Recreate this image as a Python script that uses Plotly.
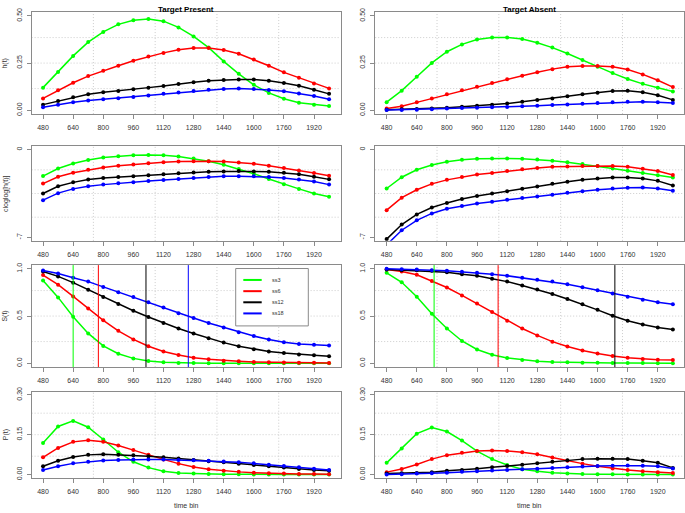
import plotly.graph_objects as go
from plotly.subplots import make_subplots

# ---------------- data ----------------
time_bins = [480, 560, 640, 720, 800, 880, 960, 1040, 1120, 1200,
             1280, 1360, 1440, 1520, 1600, 1680, 1760, 1840, 1920, 2000]
x_tickvals = [480, 640, 800, 960, 1120, 1280, 1440, 1600, 1760, 1920]
series_names = ["ss3", "ss6", "ss12", "ss18"]
series_colors = ["#00FF00", "#FF0000", "#000000", "#0000FF"]

# h(t) Target Present
h_present = {
    "ss3": [0.120, 0.203, 0.288, 0.361, 0.415, 0.455, 0.477, 0.483, 0.472, 0.439,
            0.391, 0.332, 0.259, 0.193, 0.135, 0.092, 0.061, 0.040, 0.030, 0.023],
    "ss6": [0.063, 0.106, 0.146, 0.181, 0.210, 0.236, 0.262, 0.285, 0.304, 0.321,
            0.330, 0.330, 0.319, 0.299, 0.269, 0.236, 0.201, 0.172, 0.142, 0.116],
    "ss12": [0.030, 0.049, 0.069, 0.085, 0.095, 0.102, 0.111, 0.120, 0.128, 0.139,
             0.148, 0.156, 0.161, 0.163, 0.163, 0.156, 0.144, 0.130, 0.109, 0.087],
    "ss18": [0.016, 0.030, 0.043, 0.052, 0.059, 0.064, 0.071, 0.078, 0.087, 0.094,
             0.102, 0.109, 0.113, 0.115, 0.113, 0.108, 0.101, 0.089, 0.076, 0.059],
}
# h(t) Target Absent
h_absent = {
    "ss3": [0.043, 0.104, 0.178, 0.251, 0.310, 0.349, 0.375, 0.386, 0.386, 0.377,
            0.358, 0.332, 0.301, 0.266, 0.230, 0.197, 0.166, 0.140, 0.119, 0.100],
    "ss6": [0.009, 0.021, 0.042, 0.062, 0.085, 0.106, 0.125, 0.145, 0.164, 0.183,
            0.201, 0.218, 0.230, 0.235, 0.235, 0.230, 0.216, 0.190, 0.159, 0.123],
    "ss12": [0.003, 0.005, 0.007, 0.010, 0.014, 0.019, 0.024, 0.029, 0.036, 0.045,
             0.054, 0.062, 0.074, 0.085, 0.093, 0.102, 0.104, 0.095, 0.080, 0.055],
    "ss18": [0.001, 0.002, 0.003, 0.006, 0.009, 0.012, 0.014, 0.016, 0.018, 0.021,
             0.024, 0.028, 0.031, 0.035, 0.038, 0.042, 0.045, 0.045, 0.043, 0.038],
}
# cloglog[h(t)] Target Present
cll_present = {
    "ss3": [-2.11, -1.50, -1.11, -0.82, -0.63, -0.53, -0.45, -0.42, -0.45, -0.55,
            -0.71, -0.92, -1.21, -1.55, -1.92, -2.34, -2.76, -3.13, -3.50, -3.76],
    "ss6": [-2.71, -2.16, -1.84, -1.61, -1.42, -1.29, -1.18, -1.08, -1.00, -0.95,
            -0.92, -0.92, -0.95, -1.03, -1.13, -1.29, -1.47, -1.66, -1.87, -2.08],
    "ss12": [-3.50, -2.92, -2.61, -2.39, -2.26, -2.18, -2.13, -2.05, -1.97, -1.89,
             -1.82, -1.76, -1.74, -1.71, -1.74, -1.76, -1.84, -1.97, -2.16, -2.37],
    "ss18": [-4.03, -3.47, -3.13, -2.92, -2.79, -2.68, -2.61, -2.50, -2.42, -2.34,
             -2.26, -2.18, -2.13, -2.13, -2.13, -2.18, -2.26, -2.39, -2.55, -2.79],
}
# cloglog[h(t)] Target Absent
cll_absent = {
    "ss3": [-3.10, -2.20, -1.60, -1.23, -0.97, -0.81, -0.73, -0.71, -0.71, -0.73,
            -0.79, -0.89, -1.00, -1.15, -1.31, -1.50, -1.68, -1.86, -2.05, -2.23],
    "ss6": [-4.83, -3.83, -3.20, -2.73, -2.41, -2.18, -1.99, -1.86, -1.71, -1.57,
            -1.47, -1.36, -1.34, -1.31, -1.31, -1.31, -1.36, -1.52, -1.71, -2.02],
    "ss12": [-7.14, -5.98, -5.17, -4.62, -4.25, -3.94, -3.70, -3.49, -3.31, -3.12,
             -2.94, -2.73, -2.57, -2.41, -2.31, -2.23, -2.23, -2.31, -2.49, -2.86],
    "ss18": [-7.60, -6.43, -5.64, -5.09, -4.72, -4.49, -4.30, -4.15, -3.99, -3.86,
             -3.73, -3.60, -3.44, -3.31, -3.20, -3.10, -3.04, -3.02, -3.10, -3.28],
}
# S(t) Target Present
s_present = {
    "ss3": [0.878, 0.698, 0.493, 0.316, 0.184, 0.101, 0.052, 0.024, 0.010, 0.004,
            0.002, 0.001, 0.001, 0.000, 0.000, 0.000, 0.000, 0.000, 0.000, 0.000],
    "ss6": [0.934, 0.833, 0.708, 0.580, 0.455, 0.344, 0.253, 0.181, 0.125, 0.087,
            0.059, 0.042, 0.028, 0.021, 0.014, 0.010, 0.008, 0.006, 0.005, 0.004],
    "ss12": [0.972, 0.920, 0.854, 0.778, 0.701, 0.628, 0.556, 0.490, 0.427, 0.368,
             0.316, 0.264, 0.219, 0.181, 0.149, 0.125, 0.108, 0.094, 0.084, 0.075],
    "ss18": [0.983, 0.951, 0.906, 0.865, 0.809, 0.753, 0.701, 0.646, 0.590, 0.531,
             0.479, 0.427, 0.378, 0.330, 0.288, 0.253, 0.222, 0.205, 0.195, 0.188],
}
# S(t) Target Absent
s_absent = {
    "ss3": [0.958, 0.858, 0.705, 0.524, 0.368, 0.236, 0.146, 0.090, 0.056, 0.035,
            0.021, 0.014, 0.010, 0.007, 0.005, 0.004, 0.003, 0.002, 0.001, 0.001],
    "ss6": [0.993, 0.972, 0.938, 0.872, 0.802, 0.719, 0.632, 0.542, 0.451, 0.368,
            0.295, 0.229, 0.177, 0.135, 0.104, 0.076, 0.059, 0.045, 0.038, 0.035],
    "ss12": [0.993, 0.986, 0.986, 0.979, 0.965, 0.944, 0.927, 0.896, 0.865, 0.823,
             0.781, 0.733, 0.681, 0.625, 0.566, 0.503, 0.451, 0.410, 0.378, 0.358],
    "ss18": [1.000, 0.997, 0.993, 0.986, 0.979, 0.969, 0.958, 0.944, 0.927, 0.906,
             0.885, 0.865, 0.837, 0.806, 0.774, 0.740, 0.705, 0.674, 0.646, 0.625],
}
# P(t) Target Present
p_present = {
    "ss3": [0.119, 0.181, 0.202, 0.178, 0.132, 0.084, 0.048, 0.026, 0.012, 0.006,
            0.004, 0.002, 0.001, 0.001, 0.000, 0.000, 0.000, 0.000, 0.000, 0.000],
    "ss6": [0.065, 0.100, 0.123, 0.129, 0.123, 0.109, 0.092, 0.074, 0.057, 0.041,
            0.028, 0.020, 0.014, 0.010, 0.007, 0.005, 0.004, 0.002, 0.002, 0.001],
    "ss12": [0.031, 0.052, 0.066, 0.074, 0.076, 0.074, 0.073, 0.069, 0.065, 0.060,
             0.055, 0.050, 0.046, 0.041, 0.036, 0.031, 0.026, 0.021, 0.017, 0.014],
    "ss18": [0.017, 0.031, 0.042, 0.048, 0.053, 0.055, 0.057, 0.057, 0.057, 0.055,
             0.054, 0.052, 0.049, 0.046, 0.042, 0.037, 0.032, 0.027, 0.022, 0.017],
}
# P(t) Target Absent
p_absent = {
    "ss3": [0.044, 0.098, 0.154, 0.177, 0.162, 0.128, 0.088, 0.058, 0.036, 0.020,
            0.012, 0.007, 0.004, 0.002, 0.001, 0.001, 0.000, 0.000, 0.000, 0.000],
    "ss6": [0.009, 0.021, 0.038, 0.058, 0.073, 0.082, 0.089, 0.090, 0.089, 0.084,
            0.076, 0.064, 0.052, 0.041, 0.031, 0.023, 0.017, 0.012, 0.009, 0.006],
    "ss12": [0.004, 0.005, 0.006, 0.009, 0.014, 0.017, 0.022, 0.027, 0.032, 0.037,
             0.042, 0.048, 0.054, 0.058, 0.059, 0.059, 0.058, 0.052, 0.044, 0.025],
    "ss18": [0.000, 0.001, 0.004, 0.005, 0.007, 0.010, 0.012, 0.015, 0.017, 0.020,
             0.022, 0.025, 0.027, 0.030, 0.032, 0.033, 0.034, 0.033, 0.031, 0.023],
}
# median survival times (S(t) = 0.5), drawn as vertical lines
median_present = {"ss3": 640, "ss6": 774, "ss12": 1027, "ss18": 1252}
median_absent = {"ss3": 732, "ss6": 1072, "ss12": 1692}

row_titles = ["h(t)", "cloglog[h(t)]", "S(t)", "P(t)"]
col_titles = ["Target Present", "Target Absent"]
y_ranges = [[-0.02, 0.52], [-7.28, 0.28], [-0.04, 1.04], [-0.012, 0.312]]
y_tickvals = [[0, 0.25, 0.5], [-7, 0], [0, 0.5, 1.0], [0, 0.15, 0.30]]
y_ticktext = [["0.00", "0.25", "0.50"], ["-7", "0"], ["0.0", "0.5", "1.0"],
              ["0.00", "0.15", "0.30"]]
x_axis_title = "time bin"

# ---------------- figure ----------------
W, H = 685, 513
FONT = "Liberation Sans, Arial, sans-serif"
BOX = "#8a8a8a"
TXT = "#333333"
GRID = "#cccccc"

fig = make_subplots(rows=4, cols=2)

panels = [
    [h_present, h_absent],
    [cll_present, cll_absent],
    [s_present, s_absent],
    [p_present, p_absent],
]

for r in range(4):
    for c in range(2):
        data = panels[r][c]
        for name, color in zip(series_names, series_colors):
            fig.add_trace(
                go.Scatter(
                    x=time_bins, y=data[name], mode="lines+markers", name=name,
                    line=dict(color=color, width=1.5),
                    marker=dict(color=color, size=4, symbol="circle"),
                    showlegend=False, hoverinfo="skip",
                ),
                row=r + 1, col=c + 1,
            )

# pixel layout of panels
x_dom = [[31.6 / W, 340.5 / W], [375.2 / W, 684.3 / W]]
y_px = [(7.2, 110.8), (143.4, 239.6), (264.2, 367.8), (392.8, 480.2)]

shapes = []
annotations = []
for r in range(4):
    top, bot = y_px[r]
    ydom = [1 - bot / H, 1 - top / H]
    for c in range(2):
        idx = r * 2 + c + 1
        sfx = "" if idx == 1 else str(idx)
        fig.layout["xaxis" + sfx].update(
            domain=x_dom[c], range=[419.2, 2060.8], tickmode="array",
            tickvals=x_tickvals, ticktext=[str(v) for v in x_tickvals],
            showgrid=False, zeroline=False, showline=True, mirror=True,
            linecolor=BOX, linewidth=1, ticks="outside", ticklen=4,
            tickcolor=BOX, tickwidth=1, ticklabelstandoff=3,
            tickfont=dict(family=FONT, size=7, color=TXT),
        )
        fig.layout["yaxis" + sfx].update(
            domain=ydom, range=y_ranges[r], tickmode="array",
            tickvals=y_tickvals[r], ticktext=y_ticktext[r],
            showgrid=False, zeroline=False, showline=True, mirror=True,
            linecolor=BOX, linewidth=1, ticks="outside", ticklen=4,
            tickcolor=BOX, tickwidth=1, tickangle=-90, ticklabelstandoff=2,
            tickfont=dict(family=FONT, size=7, color=TXT),
        )
        # dotted grid (grid(nx=5, ny=4) style)
        for f in [0.2, 0.4, 0.6, 0.8]:
            shapes.append(dict(type="line", xref="x%s domain" % sfx, yref="y%s domain" % sfx,
                               x0=f, x1=f, y0=0, y1=1, layer="below",
                               line=dict(color=GRID, width=1, dash="1px,2px")))
        for f in [0.25, 0.5, 0.75]:
            shapes.append(dict(type="line", xref="x%s domain" % sfx, yref="y%s domain" % sfx,
                               x0=0, x1=1, y0=f, y1=f, layer="below",
                               line=dict(color=GRID, width=1, dash="1px,2px")))
    # y axis titles
    annotations.append(dict(text=row_titles[r], xref="paper", yref="paper",
                            x=5.5 / W, y=1 - (top + bot) / 2 / H, showarrow=False,
                            textangle=-90, xanchor="center", yanchor="middle",
                            font=dict(family=FONT, size=7, color=TXT)))

# median lines in S(t) panels
for name, color in zip(series_names, series_colors):
    if name in median_present:
        v = median_present[name]
        shapes.append(dict(type="line", xref="x5", yref="y5 domain", x0=v, x1=v, y0=0, y1=1,
                           line=dict(color=color, width=1)))
    if name in median_absent:
        v = median_absent[name]
        shapes.append(dict(type="line", xref="x6", yref="y6 domain", x0=v, x1=v, y0=0, y1=1,
                           line=dict(color=color, width=1)))

# column titles and x-axis titles
centers = [(31.6 + 340.5) / 2, (375.2 + 684.3) / 2]
for c in range(2):
    annotations.append(dict(text="<b>%s</b>" % col_titles[c], xref="paper", yref="paper",
                            x=centers[c] / W, y=1, showarrow=False,
                            xanchor="center", yanchor="top", borderpad=0, yshift=1,
                            font=dict(family=FONT, size=8, color="#000000")))
    annotations.append(dict(text=x_axis_title, xref="paper", yref="paper",
                            x=centers[c] / W, y=0, showarrow=False,
                            xanchor="center", yanchor="bottom", borderpad=0,
                            font=dict(family=FONT, size=7, color=TXT)))

# manual legend box in S(t) Target Present panel
lx0, lx1, ly0, ly1 = 235.7, 308.3, 267.7, 326.0
shapes.append(dict(type="rect", xref="paper", yref="paper",
                   x0=lx0 / W, x1=lx1 / W, y0=1 - ly1 / H, y1=1 - ly0 / H,
                   line=dict(color=BOX, width=1), fillcolor="white"))
row_y = [279.3, 290.7, 302.0, 313.3]
for name, color, yy in zip(series_names, series_colors, row_y):
    shapes.append(dict(type="line", xref="paper", yref="paper",
                       x0=243.3 / W, x1=261.7 / W, y0=1 - yy / H, y1=1 - yy / H,
                       line=dict(color=color, width=2)))
    annotations.append(dict(text=name, xref="paper", yref="paper",
                            x=270 / W, y=1 - yy / H, showarrow=False,
                            xanchor="left", yanchor="middle",
                            font=dict(family=FONT, size=5.5, color=TXT)))

fig.update_layout(
    width=W, height=H, margin=dict(l=0, r=0, t=0, b=0),
    paper_bgcolor="white", plot_bgcolor="white",
    showlegend=False, shapes=shapes, annotations=annotations,
    font=dict(family=FONT), hovermode=False,
)

fig.write_html(
    "out.html",
    config={"displayModeBar": False, "staticPlot": True},
    post_script="document.body.style.margin='0';document.body.style.overflow='hidden';",
)
